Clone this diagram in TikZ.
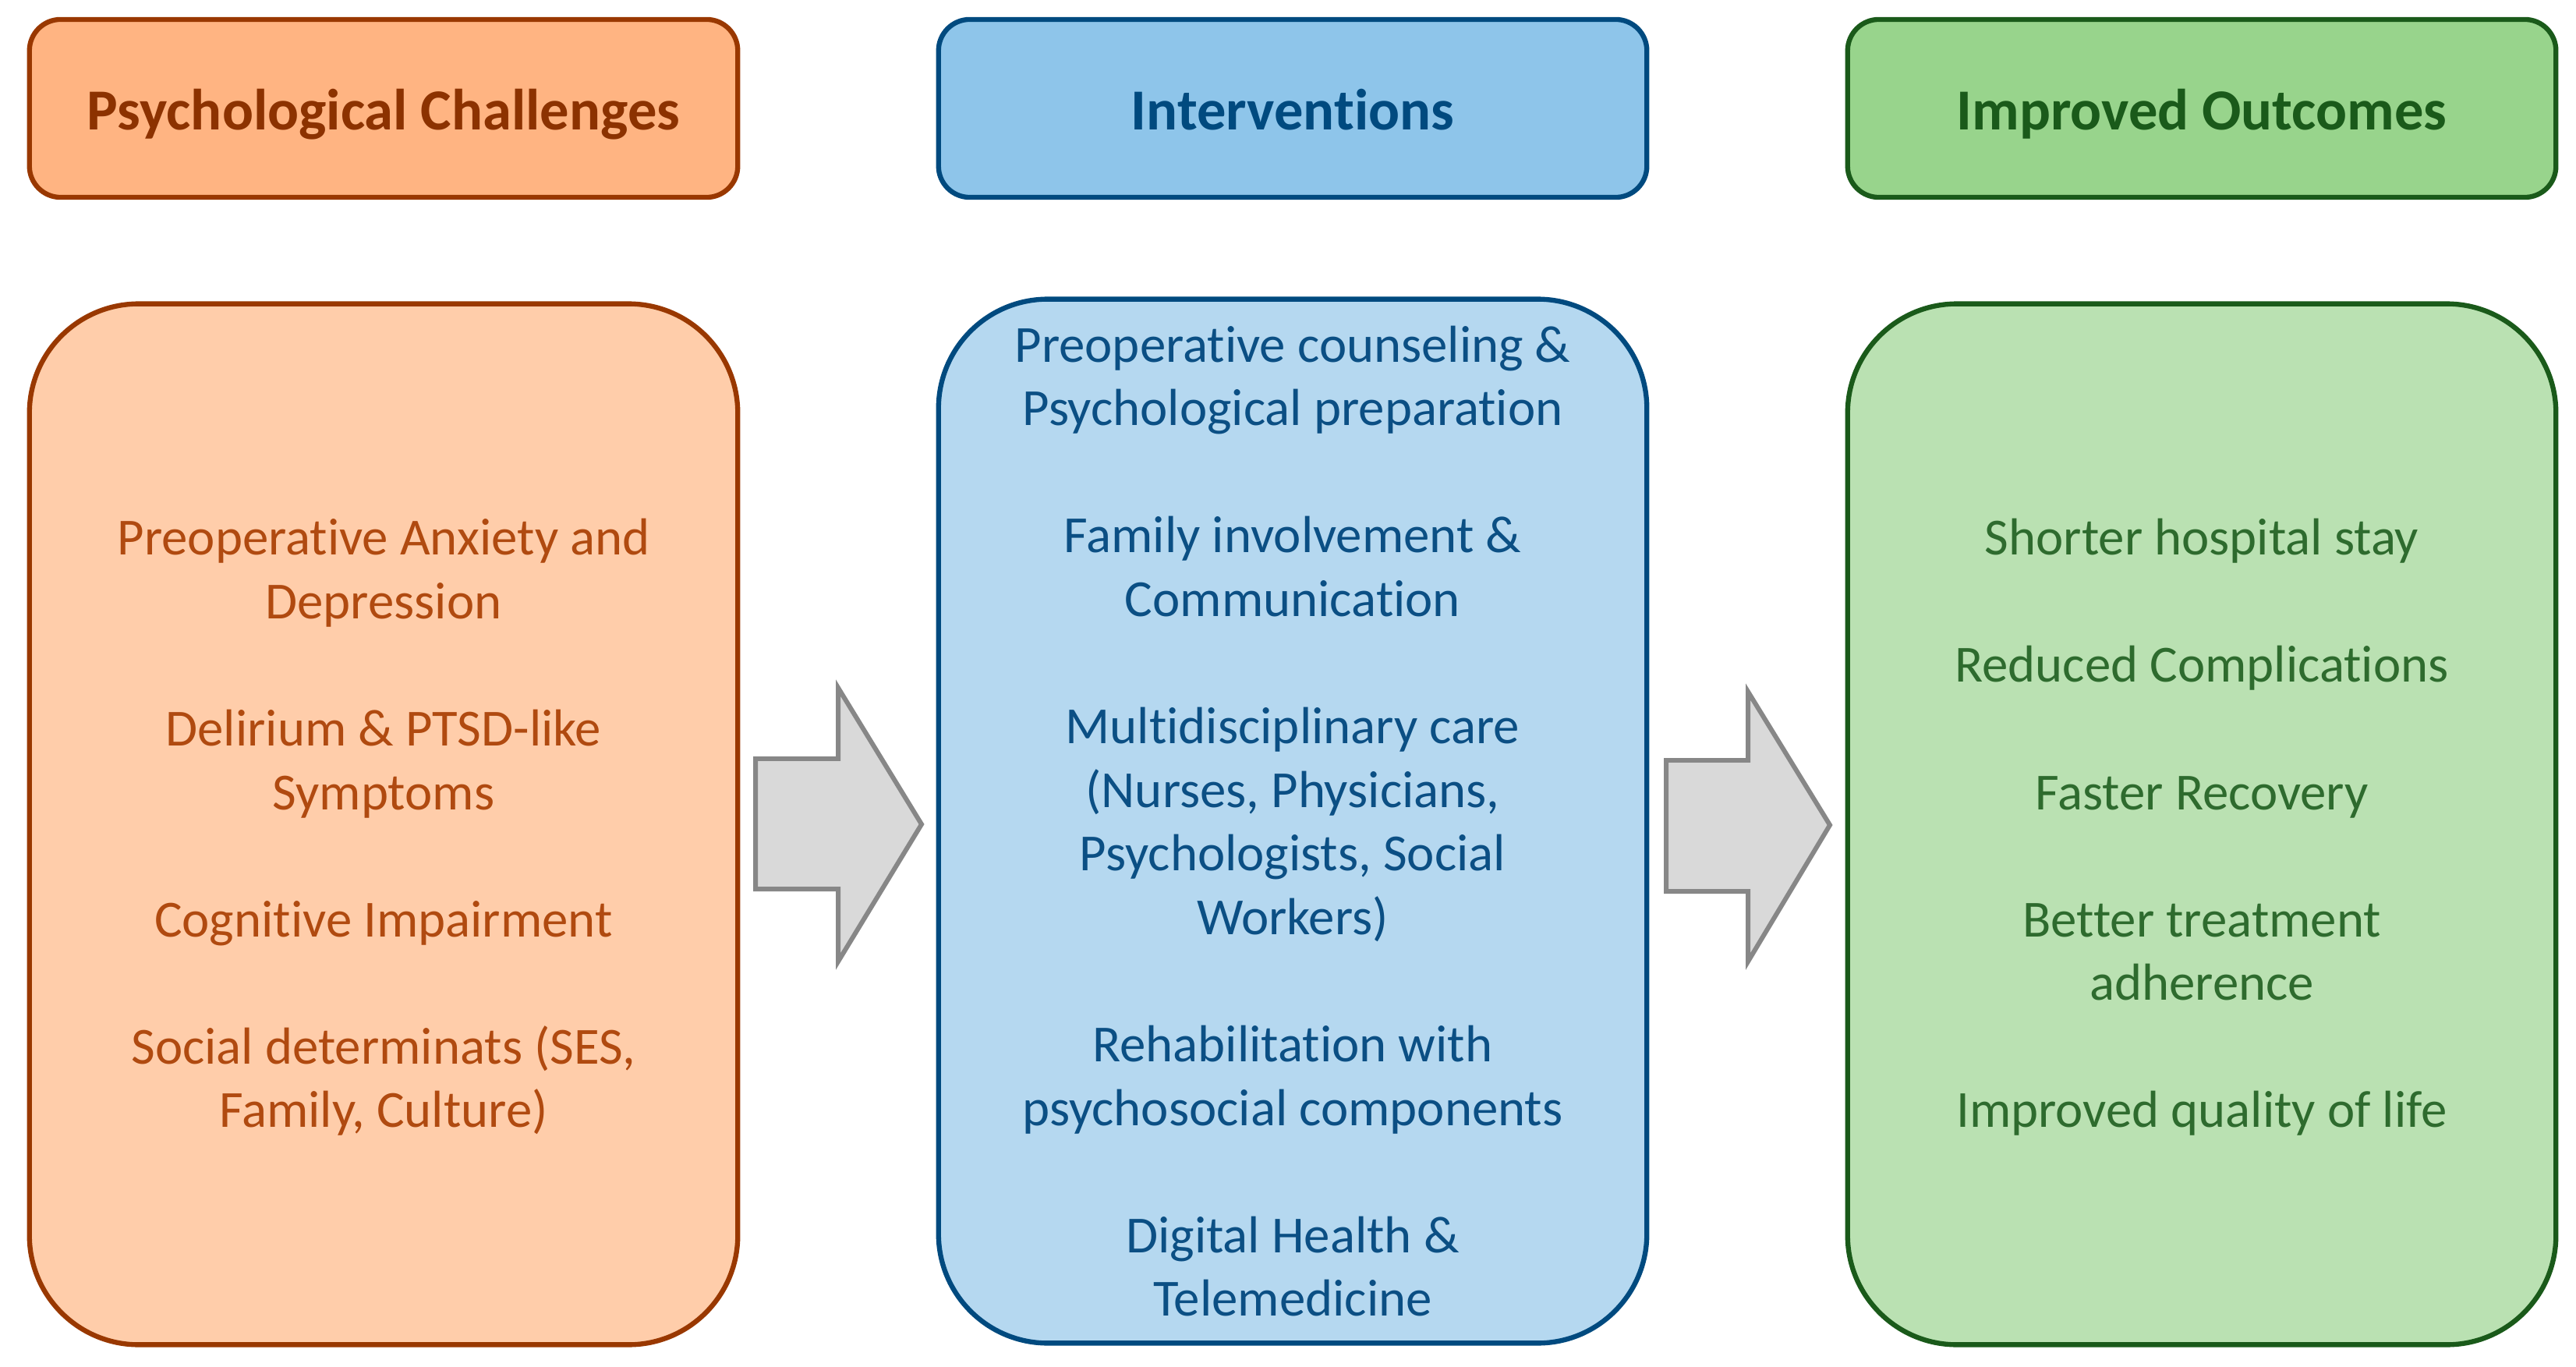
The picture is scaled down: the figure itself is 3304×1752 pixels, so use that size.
\documentclass[tikz,border=0pt]{standalone}
\usepackage{fontspec}
\setmainfont[Ligatures=NoCommon]{Carlito}
\definecolor{orHead}{RGB}{255,180,130}
\definecolor{orBody}{RGB}{255,205,170}
\definecolor{orLine}{RGB}{153,56,0}
\definecolor{orText}{RGB}{176,74,16}
\definecolor{orHText}{RGB}{140,50,0}
\definecolor{blHead}{RGB}{142,197,234}
\definecolor{blBody}{RGB}{181,216,240}
\definecolor{blLine}{RGB}{0,74,127}
\definecolor{blText}{RGB}{11,79,132}
\definecolor{grHead}{RGB}{152,212,140}
\definecolor{grBody}{RGB}{186,225,178}
\definecolor{grLine}{RGB}{26,90,26}
\definecolor{grText}{RGB}{46,107,46}
\definecolor{arFill}{RGB}{217,217,217}
\definecolor{arLine}{RGB}{135,135,135}
\tikzset{
  headbox/.style={draw, line width=1.8pt, rounded corners=0.4cm, minimum width=9.08cm, minimum height=2.28cm, align=center, font=\bfseries\fontsize{21.2}{25}\selectfont, inner sep=0pt, text height=0.62cm, text depth=0.08cm},
  bodybox/.style={draw, line width=1.8pt, rounded corners=1.4cm, minimum width=9.08cm, minimum height=13.38cm, align=center, font=\fontsize{19}{23.2}\selectfont, inner sep=0pt},
  blockarrow/.style={fill=arFill, draw=arLine, line width=1.7pt, line join=miter}
}
\begin{document}
\begin{tikzpicture}[x=0.01cm,y=-0.01cm]
\useasboundingbox (0,0) rectangle (3304,1752);
\fill[white] (0,0) rectangle (3304,1752);
% headers
\node[headbox, fill=orHead, draw=orLine, text=orHText] (h1) at (492,139) {Psychological Challenges};
\node[headbox, fill=blHead, draw=blLine, text=blLine] (h2) at (1658,139) {Interventions};
\node[headbox, fill=grHead, draw=grLine, text=grLine] (h3) at (2824,139) {Improved Outcomes};
% bodies
\node[bodybox, fill=orBody, draw=orLine, text=orText, minimum height=13.34cm] (b1) at (492,1057) {};
\node[align=center, font=\fontsize{19}{23.2}\selectfont, text=orText, inner sep=0pt] (t1) at (492,1061) {Preoperative Anxiety and\\Depression\\[23.2pt]Delirium \& PTSD-like\\Symptoms\\[23.2pt]Cognitive Impairment\\[23.2pt]Social determinats (SES,\\Family, Culture)};
\node[bodybox, fill=blBody, draw=blLine, text=blText] (b2) at (1658,1053) {Preoperative counseling \&\\Psychological preparation\\[23.2pt]Family involvement \&\\Communication\\[23.2pt]Multidisciplinary care\\(Nurses, Physicians,\\Psychologists, Social\\Workers)\\[23.2pt]Rehabilitation with\\psychosocial components\\[23.2pt]Digital Health \&\\Telemedicine};
\node[bodybox, fill=grBody, draw=grLine, text=grText, minimum height=13.34cm] (b3) at (2824,1057) {};
\node[align=center, font=\fontsize{19}{23.2}\selectfont, text=grText, inner sep=0pt] (t3) at (2824,1061) {Shorter hospital stay\\[23.2pt]Reduced Complications\\[23.2pt]Faster Recovery\\[23.2pt]Better treatment\\adherence\\[23.2pt]Improved quality of life};
% block arrows
\draw[blockarrow] (969,973) -- (1075,973) -- (1075,882) -- (1182,1057) -- (1075,1233) -- (1075,1140) -- (969,1140) -- cycle;
\draw[blockarrow] (2137,975) -- (2242,975) -- (2242,887) -- (2347,1058) -- (2242,1233) -- (2242,1143) -- (2137,1143) -- cycle;
\end{tikzpicture}
\end{document}
